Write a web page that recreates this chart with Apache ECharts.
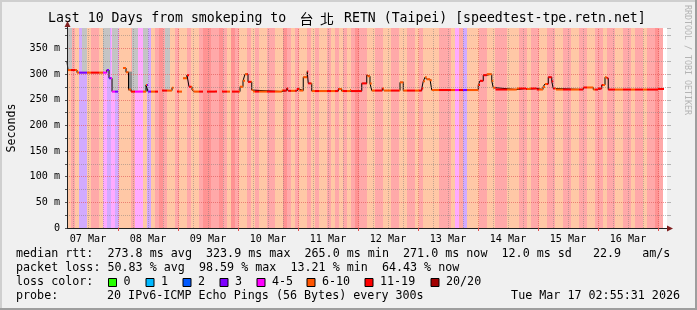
<!DOCTYPE html>
<html><head><meta charset="utf-8">
<script src="https://cdn.jsdelivr.net/npm/echarts@6/dist/echarts.min.js"></script>
<style>html,body{margin:0;padding:0;background:#f0f0f0}#c{width:697px;height:310px}</style>
</head><body><div id="c"></div>
<script>
// ---------- DATA (time in hours after 07 Mar 00:00) ----------
const graphStart = 3.6, graphEnd = 243.6;
const binStart = 3.6, binHours = 1.6;
// loss class per 1.6h bin: p=6-10, r=11-19, R=11-19 (heavy), m=4-5, v=3, ''=no data
const lossBins = ['p','r','p','v','v','p','r','r','p','m','v','m','v','p','p','p','r','m','m','p',
 'v','p','r','R','r','p','p','r','p','p','r','p','p','r','R','R','r','r','R','r',
 'p','R','r','p','p','r','p','r','p','p','r','r','p','p','R','r','p','r','p','p',
 'r','p','r','p','p','r','p','r','p','r','p','r','R','r','r','p','p','r','r','p',
 'p','r','r','p','p','r','r','p','r','p','p','p','p','r','r','r','p','m','r','v',
 'p','p','p','r','r','p','p','r','r','r','p','p','p','r','r','p','r','r','p','p',
 'r','r','p','p','r','r','p','p','r','r','p','p','r','r','p','r','r','p','p','r',
 'r','p','r','r','p','r','r','R','r',''];
// median rtt (ms) change points; null = no median (all lost)
const medianTimes = [3.6,4.0,7.6,19.5,20.4,21.6,24.0,26.0,27.2,28.2,29.2,35.2,36.0,40.0,41.6,45.6,46.2,47.6,49.6,50.0,
 51.6,52.4,53.6,54.2,58.0,59.6,63.6,65.6,68.8,69.6,72.8,74.0,74.8,76.0,77.5,78.0,89.5,91.5,92.1,95.5,
 96.5,98.1,99.7,100.1,101.5,112.1,113.5,116.8,117.2,121.5,123.5,123.8,124.8,125.5,129.7,130.4,136.8,138.1,145.5,146.1,
 146.8,147.5,148.8,149.5,168.1,168.8,170.1,171.5,173.5,174.1,175.0,183.5,187.2,188.8,191.5,194.0,194.8,196.1,197.5,198.1,
 199.2,210.1,214.1,216.0,217.5,218.8,219.5,220.1,240.0];
const medianValues = [324,308,303,308,292,266,null,312,303.5,270,266,279,266,null,268,273.6,null,266,null,292,
 298,275.5,270,266,null,266,null,266,null,266,275.5,287,300,285,269,266,268,272,267.5,271,
 268,294,305,282,267,271,267,269,267,282,298,296,282,268,272,268,284,268,272,286,
 294,290,288,269,279,287,298,300,287,273.5,270,272,271,272,270,275,281,294,286,272,
 270,274,270,272,279,294,292,270,271];
const medianEnd = 242.4;
// smoke (spread of ping rtts) blocks
const smokeFrom = [3.6, 9.6, 18.0, 21.6, 28.0, 29.6, 34.0, 42.8];
const smokeTo   = [5.6, 11.6, 20.8, 24.0, 29.6, 32.0, 36.0, 44.8];
const smokeLo   = [308, 303, 305, 266, 268, 266, 266, 268];
const smokeHi   = [390, 390, 390, 390, 305, 390, 390, 390];
const smokeDark = [0, 0, 0, 0, 1, 0, 0, 0];
// axes
const dayLabels = ['07 Mar','08 Mar','09 Mar','10 Mar','11 Mar','12 Mar','13 Mar','14 Mar','15 Mar','16 Mar'];
const dayLabelHours = [12,36,60,84,108,132,156,180,204,228];
const midnightHours = [24,48,72,96,120,144,168,192,216,240];
const minorHours = [6,12,18,30,36,42,54,60,66,78,84,90,102,108,114,126,132,138,150,156,162,174,180,186,198,204,210,222,228,234];
const yMax = 390;
const yMajor = [50,100,150,200,250,300,350];
const yMinor = [25,75,125,175,225,275,325,375];
// texts
const titleLeft = 'Last 10 Days from smokeping to';
const titleCJK = ['台', '北'];
const titleRight = 'RETN (Taipei) [speedtest-tpe.retn.net]';
const legendRtt = 'median rtt:  273.8 ms avg  323.9 ms max  265.0 ms min  271.0 ms now  12.0 ms sd   22.9   am/s';
const legendLoss = 'packet loss: 50.83 % avg  98.59 % max  13.21 % min  64.43 % now';
const lossLegendLabels = ['0','1','2','3','4-5','6-10','11-19','20/20'];
const lossLegendColors = ['#26ff00','#00b8ff','#0059ff','#7e00ff','#ff00ff','#ff5500','#ff0000','#a10000'];
const probeText = '20 IPv6-ICMP Echo Pings (56 Bytes) every 300s';
const dateText = 'Tue Mar 17 02:55:31 2026';

// ---------- styles ----------
const bgColor = {p:'#ffc8a6', r:'#ffa9a9', R:'#ff9393', m:'#ffaaff', v:'#d2aaff'};
const lineColor = {p:'#ff5500', r:'#ff0000', R:'#ff0000', m:'#ff00ff', v:'#7e00ff'};
const MONO = "'DejaVu Sans Mono', monospace";
const CJK = "'Noto Sans CJK TC', 'Noto Sans CJK SC', sans-serif";

// ---------- build series data ----------
const stripeData = [];
lossBins.forEach((c, i) => { if (c) stripeData.push([binStart + i*binHours, binStart + (i+1)*binHours, i]); });
const smokeData = smokeFrom.map((f, i) => [f, smokeTo[i], smokeLo[i], smokeHi[i], smokeDark[i]]);

const lineData = [];
const segData = [];
for (let i = 0; i < medianTimes.length; i++) {
  const ta = medianTimes[i];
  const tb = i + 1 < medianTimes.length ? medianTimes[i+1] : medianEnd;
  const v = medianValues[i];
  if (v === null) { lineData.push([ta, null]); continue; }
  lineData.push([ta, v]); lineData.push([tb, v]);
  let s = ta;
  while (s < tb - 1e-9) {
    const k = Math.floor((s - binStart) / binHours + 1e-9);
    const e = Math.min(tb, binStart + (k+1)*binHours);
    segData.push([s, e, v, k]);
    s = e;
  }
}

const gridMinor = {color: 'rgba(120,120,120,0.45)', type: [1,1], width: 1};
const gridMajor = {color: 'rgba(222,80,80,0.6)', type: [1,1], width: 1};
const gridLines = [
  ...minorHours.map(h => ({xAxis: h, lineStyle: gridMinor})),
  ...midnightHours.map(h => ({xAxis: h, lineStyle: gridMajor})),
  ...yMinor.map(v => ({yAxis: v, lineStyle: gridMinor})),
  ...yMajor.map(v => ({yAxis: v, lineStyle: gridMajor}))
];

// ---------- graphic (frame, texts) ----------
const g = [];
g.push({type:'rect', shape:{x:0,y:0,width:697,height:2}, style:{fill:'#cfcfcf'}, z:100});
g.push({type:'rect', shape:{x:0,y:0,width:2,height:310}, style:{fill:'#cfcfcf'}, z:100});
g.push({type:'rect', shape:{x:0,y:308,width:697,height:2}, style:{fill:'#9e9e9e'}, z:100});
g.push({type:'rect', shape:{x:695,y:0,width:2,height:310}, style:{fill:'#9e9e9e'}, z:100});
const tfont = '13.2px ' + MONO;
g.push({type:'text', x:48, y:19, style:{text:titleLeft, font:tfont, fill:'#000', align:'left', verticalAlign:'middle'}});
g.push({type:'text', x:306.5, y:19, style:{text:titleCJK[0], font:'14px ' + CJK, fill:'#000', align:'center', verticalAlign:'middle'}});
g.push({type:'text', x:327, y:19, style:{text:titleCJK[1], font:'14px ' + CJK, fill:'#000', align:'center', verticalAlign:'middle'}});
g.push({type:'text', x:344, y:19, style:{text:titleRight, font:tfont, fill:'#000', align:'left', verticalAlign:'middle'}});
g.push({type:'text', x:12, y:128, rotation:Math.PI/2, style:{text:'Seconds', font:'11.6px '+MONO, fill:'#000', align:'center', verticalAlign:'middle'}});
g.push({type:'text', x:687, y:5, rotation:-Math.PI/2, style:{text:'RRDTOOL / TOBI OETIKER', font:'8.3px '+MONO, fill:'#b4b4b4', align:'left', verticalAlign:'middle'}});
// axis arrows
g.push({type:'line', shape:{x1:67.5,y1:28,x2:67.5,y2:23}, style:{stroke:'#1f1f1f', lineWidth:1}, z:50});
g.push({type:'polygon', shape:{points:[[64.5,27],[70.5,27],[67.5,21]]}, style:{fill:'#7f1f1f'}, z:51});
g.push({type:'line', shape:{x1:667,y1:228.5,x2:669,y2:228.5}, style:{stroke:'#1f1f1f', lineWidth:1}, z:50});
g.push({type:'polygon', shape:{points:[[667,225.5],[667,231.5],[673,228.5]]}, style:{fill:'#7f1f1f'}, z:51});
// legend lines
const lf = '11.7px ' + MONO;
const tx = (x, y, t, align) => g.push({type:'text', x, y, style:{text:t, font:lf, fill:'#000', align:align||'left', verticalAlign:'middle'}});
tx(16, 254, legendRtt);
tx(16, 268, legendLoss);
tx(16, 282, 'loss color:');
[108.5,146,183,220,257,307,365,431].forEach((x, i) => {
  g.push({type:'rect', shape:{x:x, y:278.5, width:8, height:8}, style:{fill:lossLegendColors[i], stroke:'#000', lineWidth:1}});
  tx(x + 15, 282, lossLegendLabels[i]);
});
tx(16, 296, 'probe:');
tx(107, 296, probeText);
tx(680, 296, dateText, 'right');

// ---------- chart ----------
const chart = echarts.init(document.getElementById('c'), null, {renderer:'canvas', width:697, height:310});
chart.setOption({
  animation: false,
  backgroundColor: '#f0f0f0',
  grid: {left:67, top:28, width:600, height:200, show:true, backgroundColor:'#ffffff', borderWidth:0},
  xAxis: {
    type:'value', min:graphStart, max:graphEnd, z:20,
    axisLine:{show:true, onZero:false, lineStyle:{color:'#1f1f1f', width:1}},
    axisTick:{show:true, customValues:midnightHours, length:3, lineStyle:{color:'#de5050'}},
    axisLabel:{customValues:dayLabelHours, formatter:(v) => dayLabels[dayLabelHours.indexOf(v)] || '',
      fontFamily:MONO, fontSize:10.1, color:'#000', margin:6},
    splitLine:{show:false}
  },
  yAxis: [{
    type:'value', min:0, max:yMax, interval:25, z:20,
    axisLine:{show:true, lineStyle:{color:'#1f1f1f', width:1}},
    axisTick:{show:true, length:2, lineStyle:{color:'#555'}},
    axisLabel:{formatter:(v) => (v % 50 === 0 && v <= 350) ? (v === 0 ? '0' : v + ' m') : '',
      fontFamily:MONO, fontSize:10.1, color:'#000', margin:7},
    splitLine:{show:false}
  }, {
    type:'value', position:'right', min:0, max:yMax, interval:25, z:20,
    axisLine:{show:false}, axisLabel:{show:false}, splitLine:{show:false},
    axisTick:{show:true, length:4, lineStyle:{color:'rgba(140,140,140,0.6)'}}
  }],
  series: [
    { type:'custom', z:1, clip:true, silent:true, data:stripeData, encode:{x:[0,1]},
      renderItem:(params, api) => {
        const c = lossBins[api.value(2)];
        const p0 = api.coord([api.value(0), yMax]);
        const p1 = api.coord([api.value(1), 0]);
        return {type:'rect', shape:{x:p0[0], y:p0[1], width:p1[0]-p0[0], height:p1[1]-p0[1]}, style:{fill:bgColor[c]}};
      } },
    { type:'custom', z:2, clip:true, silent:true, data:smokeData, encode:{x:[0,1], y:[2,3]},
      renderItem:(params, api) => {
        const p0 = api.coord([api.value(0), Math.min(api.value(3), yMax)]);
        const p1 = api.coord([api.value(1), api.value(2)]);
        return {type:'rect', shape:{x:p0[0], y:p0[1], width:p1[0]-p0[0], height:p1[1]-p0[1]},
          style:{fill: api.value(4) ? '#8c8c8c' : '#c4c4c4'}};
      } },
    { type:'line', z:3, silent:true, data:[], symbol:'none',
      markLine:{silent:true, symbol:['none','none'], label:{show:false}, animation:false, data:gridLines} },
    { type:'line', z:4, silent:true, data:lineData, symbol:'none', connectNulls:false,
      lineStyle:{color:'#000', width:1} },
    { type:'custom', z:5, clip:true, silent:true, data:segData, encode:{x:[0,1], y:2},
      renderItem:(params, api) => {
        const c = lossBins[api.value(3)] || 'r';
        const p0 = api.coord([api.value(0), api.value(2)]);
        const p1 = api.coord([api.value(1), api.value(2)]);
        return {type:'line', shape:{x1:p0[0], y1:p0[1], x2:p1[0], y2:p1[1]}, style:{stroke:lineColor[c], lineWidth:2}};
      } }
  ],
  graphic: g
});
</script>
</body></html>
